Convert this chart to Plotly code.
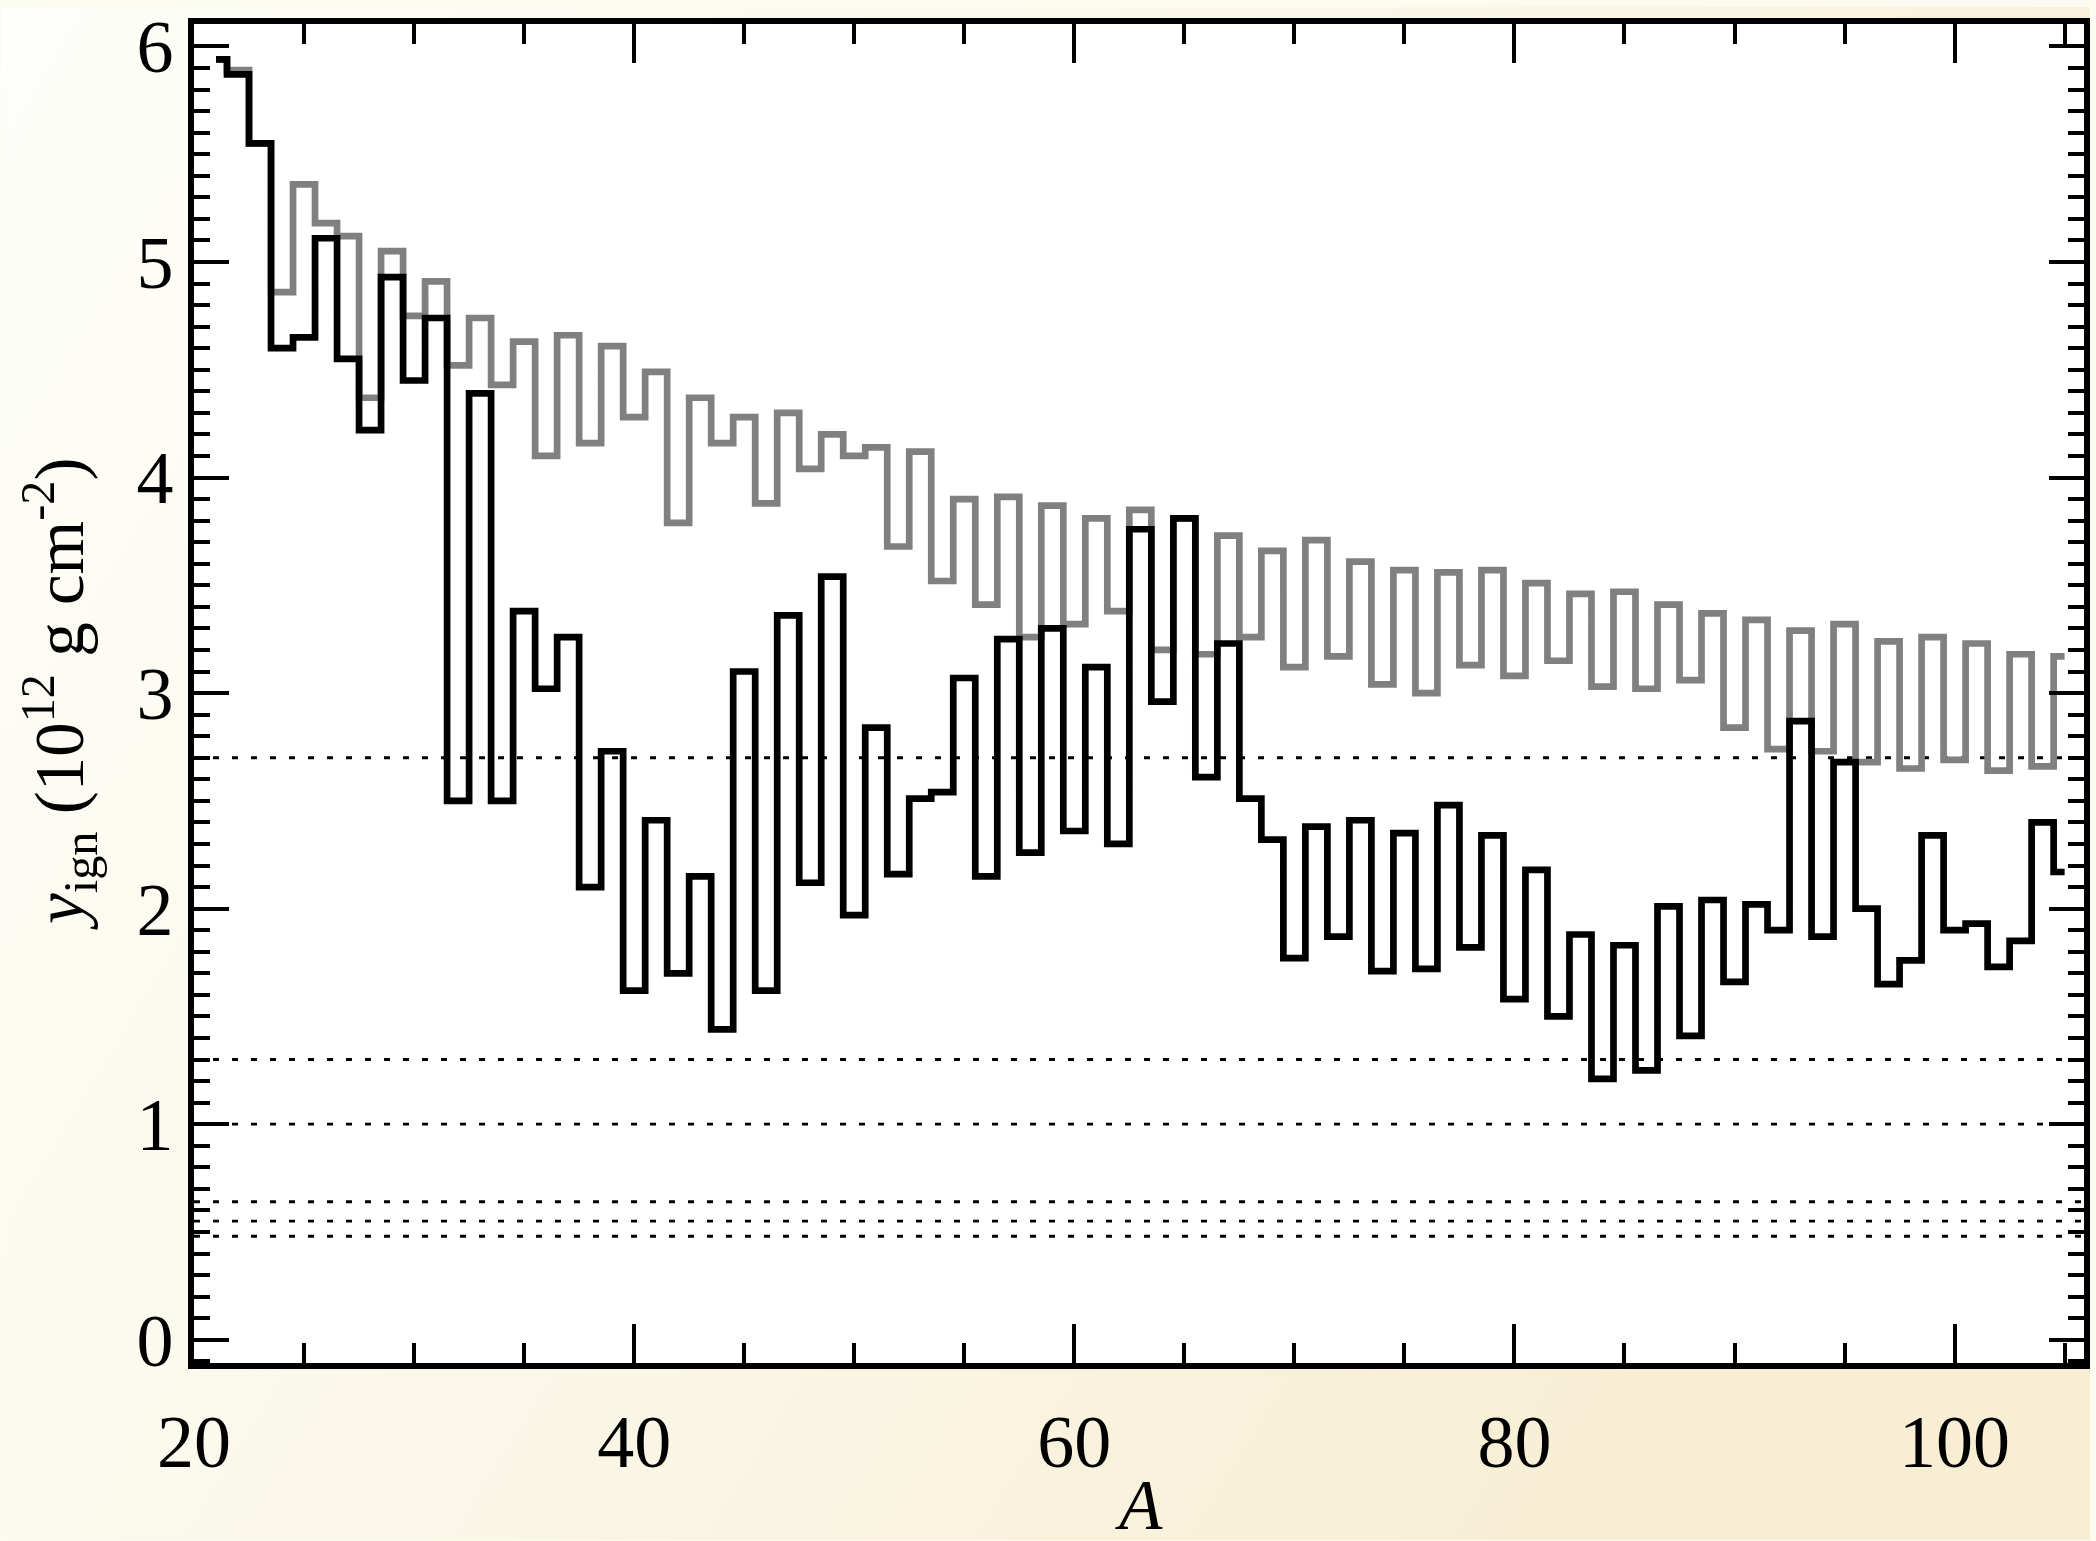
import base64
import plotly.graph_objects as go

# ---------------- data ----------------
A = list(range(21, 106))

y_black = [5.94, 5.87, 5.55, 4.60, 4.65, 5.11, 4.55, 4.22, 4.93, 4.45,
           4.74, 2.50, 4.39, 2.50, 3.38, 3.02, 3.26, 2.10, 2.73, 1.62,
           2.41, 1.70, 2.15, 1.44, 3.10, 1.62, 3.36, 2.12, 3.54, 1.97,
           2.84, 2.16, 2.51, 2.54, 3.07, 2.15, 3.25, 2.26, 3.30, 2.36,
           3.12, 2.30, 3.76, 2.96, 3.81, 2.61, 3.23, 2.51, 2.32, 1.77,
           2.38, 1.87, 2.41, 1.71, 2.35, 1.72, 2.48, 1.82, 2.34, 1.58,
           2.18, 1.50, 1.88, 1.21, 1.83, 1.25, 2.01, 1.41, 2.04, 1.66,
           2.02, 1.90, 2.87, 1.87, 2.68, 2.00, 1.65, 1.76, 2.34, 1.90,
           1.93, 1.73, 1.85, 2.40, 2.17]

y_gray = [5.94, 5.89, 5.55, 4.86, 5.36, 5.18, 5.12, 4.37, 5.05, 4.75,
          4.91, 4.52, 4.74, 4.43, 4.63, 4.10, 4.66, 4.16, 4.61, 4.28,
          4.49, 3.79, 4.37, 4.16, 4.28, 3.88, 4.30, 4.04, 4.20, 4.10,
          4.14, 3.68, 4.12, 3.52, 3.90, 3.41, 3.91, 3.26, 3.87, 3.32,
          3.81, 3.38, 3.85, 3.20, 3.81, 3.18, 3.73, 3.26, 3.66, 3.12,
          3.71, 3.17, 3.61, 3.04, 3.57, 3.00, 3.56, 3.13, 3.57, 3.08,
          3.51, 3.15, 3.46, 3.03, 3.47, 3.02, 3.41, 3.06, 3.37, 2.84,
          3.34, 2.74, 3.29, 2.73, 3.32, 2.68, 3.24, 2.65, 3.26, 2.69,
          3.23, 2.64, 3.18, 2.66, 3.17]

ref_levels = [2.70, 1.30, 1.00, 0.64, 0.55, 0.48]

x_ticks = [20, 40, 60, 80, 100]
y_ticks = [0, 1, 2, 3, 4, 5, 6]
x_range = [20, 105.88]
y_range = [-0.108, 6.104]

# ---------------- figure ----------------
W, H = 2096, 1541
ML, MR, MT, MB = 194, 6, 17, 178
PW, PH = W - ML - MR, H - MT - MB

FONT = "Liberation Serif, Times New Roman, Times, serif"

fig = go.Figure()

fig.add_trace(go.Scatter(
    x=A, y=y_gray, mode="lines",
    line=dict(color="rgb(128,128,128)", width=6.7, shape="hvh"),
    showlegend=False, hoverinfo="skip"))
fig.add_trace(go.Scatter(
    x=A, y=y_black, mode="lines",
    line=dict(color="black", width=6.7, shape="hvh"),
    showlegend=False, hoverinfo="skip"))

# background gradient (paper) as an svg image
svg = (f'<svg xmlns="http://www.w3.org/2000/svg" width="{W}" height="{H}" '
       f'viewBox="0 0 {W} {H}" preserveAspectRatio="none">'
       '<defs><linearGradient id="g" x1="0" y1="0" x2="1" y2="0.45">'
       '<stop offset="0" stop-color="#FEFEFA"/>'
       '<stop offset="0.5" stop-color="#FBF8EA"/>'
       '<stop offset="1" stop-color="#F7EED4"/>'
       '</linearGradient></defs>'
       f'<rect x="0" y="0" width="{W}" height="{H}" fill="url(#g)"/></svg>')
uri = "data:image/svg+xml;base64," + base64.b64encode(svg.encode()).decode()

shapes = [dict(type="rect", xref="paper", yref="paper", x0=0, x1=1, y0=0, y1=1,
               fillcolor="white", line=dict(width=0), layer="below")]
for lv in ref_levels:
    shapes.append(dict(type="line", xref="paper", yref="y", x0=0, x1=1,
                       y0=lv, y1=lv, layer="below",
                       line=dict(color="black", width=2.8, dash="6px,13px")))

axis_common = dict(showline=True, linecolor="black", linewidth=5.5,
                   mirror="ticks", ticks="inside", tickcolor="black",
                   tickwidth=4, showgrid=False, zeroline=False,
                   ticklabeloverflow="allow",
                   tickfont=dict(family=FONT, size=74, color="black"))

fig.update_layout(
    width=W, height=H,
    margin=dict(l=ML, r=MR, t=MT, b=MB, pad=0),
    paper_bgcolor="#FCFBF2", plot_bgcolor="white",
    images=[dict(source=uri, xref="paper", yref="paper",
                 x=-ML / PW, y=1 + MT / PH, sizex=W / PW, sizey=H / PH,
                 xanchor="left", yanchor="top", sizing="stretch",
                 layer="below")],
    shapes=shapes,
    xaxis=dict(range=x_range, tickvals=x_ticks,
               ticktext=[str(v) for v in x_ticks], ticklen=39,
               ticklabelstandoff=9,
               minor=dict(dtick=5, tick0=0, ticks="inside", ticklen=20,
                          tickwidth=4, tickcolor="black", showgrid=False),
               **axis_common),
    yaxis=dict(range=y_range, tickvals=y_ticks,
               ticktext=[str(v) for v in y_ticks], ticklen=35,
               ticklabelstandoff=0,
               minor=dict(dtick=0.1, tick0=0, ticks="inside", ticklen=16,
                          tickwidth=4, tickcolor="black", showgrid=False),
               **axis_common),
    annotations=[
        dict(text="<i>y</i><sub>ign</sub> (10<sup>12</sup> g cm<sup>-2</sup>)",
             xref="paper", yref="paper", x=(58 - ML) / PW, y=0.5,
             xanchor="center", yanchor="middle", textangle=-90,
             showarrow=False, font=dict(family=FONT, size=69, color="black")),
        dict(text="<i>A</i>", xref="paper", yref="paper",
             x=0.5, y=(MT + PH - 1506) / PH,
             xanchor="center", yanchor="middle", showarrow=False,
             font=dict(family=FONT, size=71, color="black")),
    ],
)

fig.write_html("out.html")
